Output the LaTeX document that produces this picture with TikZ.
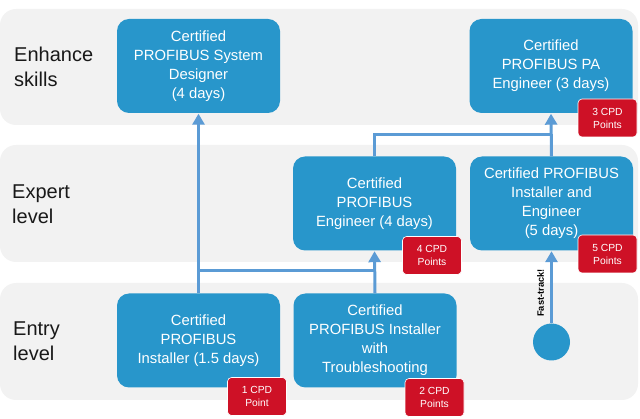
\documentclass[tikz,border=0pt]{standalone}
\usepackage{fontspec}
\setmainfont{Liberation Sans}
\usetikzlibrary{arrows.meta}
\definecolor{lanegray}{RGB}{242,242,242}
\definecolor{boxblue}{RGB}{40,150,203}
\definecolor{arrblue}{RGB}{91,155,213}
\definecolor{cpdred}{RGB}{206,17,38}
\tikzset{
  lane/.style={fill=lanegray, draw=none, rounded corners=16pt},
  lanelabel/.style={anchor=west, align=left, font=\fontsize{20}{25}\selectfont, text=black!90, inner sep=0pt},
  course/.style={fill=boxblue, draw=none, rounded corners=12pt, minimum width=163pt, minimum height=94pt,
    text=white, align=center, font=\fontsize{14.8}{19}\selectfont, inner sep=2pt},
  cpd/.style={fill=cpdred, draw=white, line width=0.6pt, rounded corners=4pt, minimum width=59pt, minimum height=38pt,
    text=white, align=center, font=\fontsize{10.3}{13}\selectfont, inner sep=1pt},
  conn/.style={draw=arrblue, line width=3pt},
  arr/.style={conn, -{Triangle[width=12pt,length=11pt]}, shorten >=0.5pt},
}
\begin{document}
\begin{tikzpicture}[x=1pt,y=-1pt]
\useasboundingbox (0,0) rectangle (640,419);
% lanes
\path[lane] (0,9) rectangle (638,125);
\path[lane] (0,145) rectangle (638,262);
\path[lane] (0,283) rectangle (638,400);
% lane labels
\node[lanelabel] (l1) at (14,67) {Enhance\\skills};
\node[lanelabel] (l2) at (12,204) {Expert\\level};
\node[lanelabel] (l3) at (13,341) {Entry\\level};
% courses
\node[course] (sd) at (198.5,66) {Certified\\PROFIBUS System\\Designer\\(4 days)};
\node[course] (pa) at (551,66) {Certified\\PROFIBUS PA\\Engineer (3 days)};
\node[course] (eng) at (374.5,203.5) {Certified\\PROFIBUS\\Engineer (4 days)};
\node[course] (ie) at (551.5,203.5) {Certified PROFIBUS\\Installer and\\Engineer\\(5 days)};
\node[course] (inst) at (198.5,340.5) {Certified\\PROFIBUS\\Installer (1.5 days)};
\node[course] (ts) at (375,340.5) {Certified\\PROFIBUS Installer\\with\\Troubleshooting};
\node[circle, fill=boxblue, minimum size=37pt, inner sep=0pt] (ft) at (551.5,342) {};
% connectors
\coordinate (j1) at (374.5,271);
\coordinate (j2) at (551.5,135);
\draw[arr] (inst.north) -- (sd.south);
\draw[conn] (inst.north |- j1) -- (j1);
\draw[arr] (ts.north) -- (eng.south);
\draw[conn] (eng.north) |- (j2);
\draw[arr] (ie.north) -- (pa.south);
\draw[arr] (ft.north) -- (ie.south);
\node[rotate=90, font=\bfseries\fontsize{9.3}{10}\selectfont, inner sep=0pt] (ftl) at (540.5,293) {Fast-track!};
% CPD badges
\node[cpd] (c3) at (607.5,118) {3 CPD\\Points};
\node[cpd] (c4) at (432,255.5) {4 CPD\\Points};
\node[cpd] (c5) at (607.5,254) {5 CPD\\Points};
\node[cpd] (c1) at (257,396.5) {1 CPD\\Point};
\node[cpd] (c2) at (434.5,397.5) {2 CPD\\Points};
\end{tikzpicture}
\end{document}
